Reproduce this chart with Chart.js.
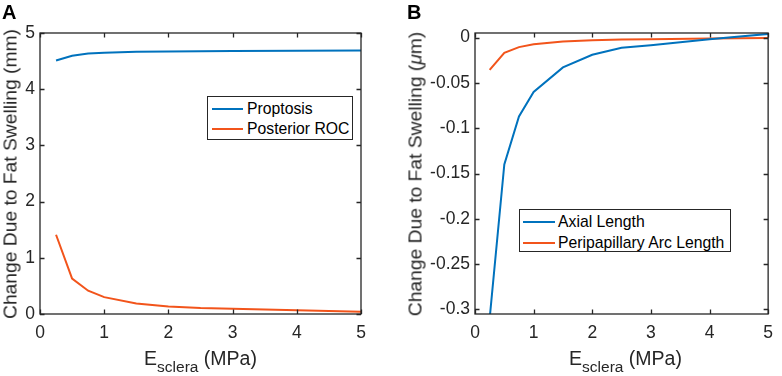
<!DOCTYPE html>
<html>
<head>
<meta charset="utf-8">
<script src="https://cdn.jsdelivr.net/npm/chart.js@4.4.1/dist/chart.umd.min.js"></script>
<style>
  html, body { margin:0; padding:0; background:#fff; }
  #wrap { position:relative; width:782px; height:376px; overflow:hidden; font-family:"Liberation Sans", Arial, Helvetica, sans-serif; color:#262626; }
  canvas { position:absolute; top:0; }
  .letter { position:absolute; font-weight:bold; font-size:20px; line-height:20px; color:#000; }
  .ytitle { position:absolute; font-size:19.25px; line-height:23px; white-space:nowrap; transform:translate(-50%,-50%) rotate(-90deg); }
  .xtitle { position:absolute; font-size:19.5px; line-height:20px; white-space:nowrap; text-align:center; }
  .xtitle sub { font-size:15.5px; vertical-align:-7px; line-height:0; }
  .legend { position:absolute; background:#fff; border:1.3px solid #262626; box-sizing:border-box; font-size:15.75px; }
  .legend .sw { position:absolute; height:2px; }
  .legend .tx { position:absolute; line-height:18px; color:#000; }
</style>
</head>
<body>
<div id="wrap">
  <canvas id="chartA" width="391" height="376" style="left:0"></canvas>
  <canvas id="chartB" width="391" height="376" style="left:391px"></canvas>

  <div class="letter" style="left:2px;top:2px;">A</div>
  <div class="letter" style="left:407px;top:2px;">B</div>

  <div class="ytitle" style="left:10px;top:174px;">Change Due to Fat Swelling (mm)</div>
  <div class="ytitle" style="left:415px;top:174px;">Change Due to Fat Swelling (<i>μ</i>m)</div>

  <div class="xtitle" style="left:40px;width:321px;top:348px;">E<sub>sclera</sub> (MPa)</div>
  <div class="xtitle" style="left:475px;width:301px;top:348px;">E<sub>sclera</sub> (MPa)</div>

  <div class="legend" id="legA" style="left:207px;top:96px;width:146px;height:44px;"></div>
  <div class="legend" id="legB" style="left:519px;top:209px;width:212px;height:43px;"></div>
</div>
<script>
// ---------------- data ----------------
const eSclera = [0.25, 0.5, 0.75, 1, 1.5, 2, 2.5, 3, 4, 5];

const proptosis    = [4.51, 4.595, 4.635, 4.65, 4.665, 4.672, 4.676, 4.679, 4.683, 4.687];
const posteriorROC = [1.41, 0.63, 0.415, 0.30, 0.185, 0.135, 0.107, 0.094, 0.065, 0.04];

const axialLength      = [-0.31, -0.140, -0.087, -0.060, -0.033, -0.019, -0.0113, -0.0084, -0.0020, 0.004];
const peripapillaryArc = [-0.0356, -0.0169, -0.0106, -0.0073, -0.0044, -0.0030, -0.0022, -0.0018, -0.0012, -0.0006];

const xTicks  = [0, 1, 2, 3, 4, 5];
const yTicksA = [0, 1, 2, 3, 4, 5];
const yTicksB = [-0.3, -0.25, -0.2, -0.15, -0.1, -0.05, 0];

const labelsA = ['Proptosis', 'Posterior ROC'];
const labelsB = ['Axial Length', 'Peripapillary Arc Length'];

const BLUE = '#0072BD';
const ORANGE = '#F2541B';
const AXIS = '#262626';
const FONT = '"Liberation Sans", Arial, Helvetica, sans-serif';

function pts(xs, ys) { return xs.map((x, i) => ({ x: x, y: ys[i] })); }

// inward ticks + box frame
const framePlugin = {
  id: 'frame',
  afterDatasetsDraw(chart) {
    const { ctx, chartArea: a, scales } = chart;
    const L = 4.5;
    ctx.save();
    ctx.strokeStyle = AXIS;
    ctx.lineWidth = 1.3;
    ctx.beginPath();
    scales.x.ticks.forEach(t => {
      const px = Math.round(scales.x.getPixelForValue(t.value)) + 0.5;
      ctx.moveTo(px, a.bottom); ctx.lineTo(px, a.bottom - L);
      ctx.moveTo(px, a.top); ctx.lineTo(px, a.top + L);
    });
    scales.y.ticks.forEach(t => {
      const py = Math.round(scales.y.getPixelForValue(t.value)) + 0.5;
      ctx.moveTo(a.left, py); ctx.lineTo(a.left + L, py);
      ctx.moveTo(a.right, py); ctx.lineTo(a.right - L, py);
    });
    ctx.stroke();
    ctx.strokeRect(a.left, a.top, a.right - a.left, a.bottom - a.top);
    ctx.restore();
  }
};

function makeChart(id, series, labels, yMin, yMax, yTicks, yWidth, padRight) {
  const colors = [BLUE, ORANGE];
  return new Chart(document.getElementById(id), {
    type: 'line',
    data: {
      datasets: series.map((s, i) => ({
        label: labels[i],
        data: pts(eSclera, s),
        borderColor: colors[i],
        backgroundColor: colors[i],
        borderWidth: 2,
        pointRadius: 0,
        tension: 0,
        fill: false
      }))
    },
    options: {
      responsive: false,
      devicePixelRatio: 1,
      animation: false,
      layout: { padding: { top: 33, right: padRight, left: 0, bottom: 0 } },
      plugins: { legend: { display: false }, tooltip: { enabled: false } },
      scales: {
        x: {
          type: 'linear', min: 0, max: 5,
          afterBuildTicks: s => { s.ticks = xTicks.map(v => ({ value: v })); },
          afterFit: s => { s.height = 62; },
          grid: { display: false, drawTicks: false },
          border: { display: false },
          ticks: { color: AXIS, font: { family: FONT, size: 17.5 }, padding: 9, maxRotation: 0,
                   callback: v => String(v) }
        },
        y: {
          type: 'linear', min: yMin, max: yMax,
          afterBuildTicks: s => { s.ticks = yTicks.map(v => ({ value: v })); },
          afterFit: s => { s.width = yWidth; },
          grid: { display: false, drawTicks: false },
          border: { display: false },
          ticks: { color: AXIS, font: { family: FONT, size: 17.5 }, padding: 5,
                   callback: v => String(v) }
        }
      }
    },
    plugins: [framePlugin]
  });
}

makeChart('chartA', [proptosis, posteriorROC], labelsA, 0, 5, yTicksA, 40, 30);
makeChart('chartB', [axialLength, peripapillaryArc], labelsB, -0.305, 0.005, yTicksB, 84, 6);

// legends
function buildLegend(id, labels, swL, swR, txL, rows) {
  const el = document.getElementById(id);
  const colors = [BLUE, ORANGE];
  labels.forEach((lab, i) => {
    const sw = document.createElement('div');
    sw.className = 'sw';
    sw.style.left = swL + 'px';
    sw.style.width = (swR - swL) + 'px';
    sw.style.top = (rows[i] - 1) + 'px';
    sw.style.background = colors[i];
    el.appendChild(sw);
    const tx = document.createElement('div');
    tx.className = 'tx';
    tx.style.left = txL + 'px';
    tx.style.top = (rows[i] - 9) + 'px';
    tx.textContent = lab;
    el.appendChild(tx);
  });
}
buildLegend('legA', labelsA, 4, 35, 39, [12, 32]);
buildLegend('legB', labelsB, 3, 35, 38, [12, 32.5]);
</script>
</body>
</html>
